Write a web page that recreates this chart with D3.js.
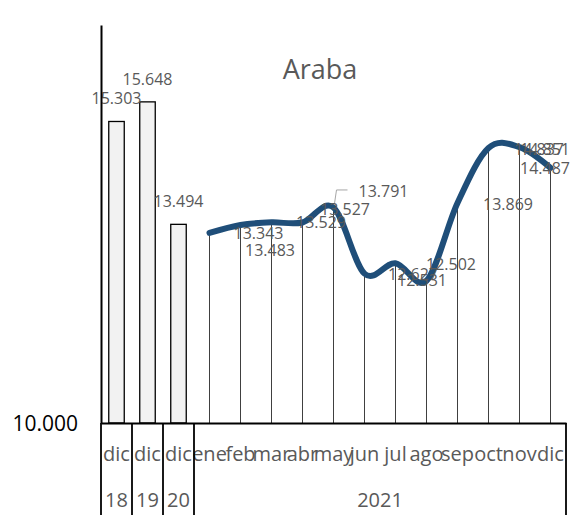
<!DOCTYPE html>
<html>
<head>
<meta charset="utf-8">
<script src="https://cdn.jsdelivr.net/npm/d3@7"></script>
<style>
  body { margin: 0; background: #fff; }
  svg { display: block; font-family: "Open Sans", sans-serif; }
</style>
</head>
<body>
<div id="chart"></div>
<script>
// data
var categories = ["dic", "dic", "dic", "ene", "feb", "mar", "abr", "may", "jun", "jul", "ago", "sep", "oct", "nov", "dic"];
var groupLabels = ["18", "19", "20", "2021"];
var groupSizes = [1, 1, 1, 12];
var barValues = [15303, 15648, 13494];
var monthValues = [13343, 13483, 13529, 13527, 13791, 12627, 12810, 12502, 13869, 14837, 14851, 14487];
var monthLabels = ["13.343", "13.483", "13.529", "13.527", "13.791", "12.627", "12.531", "12.502", "13.869", "14.837", "14.851", "14.487"];
var yTicks = [10000];

// where each month label sits relative to its point (dx, dy)
var labelOffsets = [[49, 6], [29.5, 31], [49.5, 5.7], [42.5, -7.5], [50, -10.5], [48.5, 6.5],
                    [26.5, 23], [24.5, -10.7], [50.5, 6.6], [50.5, 7], [25.5, 7.8], [-5.5, 6]];

var W = 572, H = 515;
var plotLeft = 101, plotRight = 566, plotTop = 25, axisY = 423;

var svg = d3.select("#chart")
  .append("svg")
    .attr("width", W)
    .attr("height", H);

var locale = d3.formatLocale({decimal: ",", thousands: ".", grouping: [3], currency: ["", "€"]});
var fmt = locale.format(",d");

var x = d3.scaleBand()
  .domain(d3.range(categories.length))
  .range([plotLeft, plotRight])
  .padding(0);
var bw = x.bandwidth();

var y = d3.scaleLinear()
  .domain([10000, 17000])
  .range([axisY, plotTop]);

// title
svg.append("text")
  .attr("x", 320)
  .attr("y", 79)
  .attr("text-anchor", "middle")
  .style("font-size", "27px")
  .style("fill", "#595959")
  .text("Araba");

// bars (dic 18, 19, 20)
svg.selectAll("rect.bar")
  .data(barValues)
  .enter()
  .append("rect")
    .attr("class", "bar")
    .attr("x", function(d, i) { return x(i) + bw * 0.25; })
    .attr("width", bw * 0.5)
    .attr("y", function(d) { return y(d); })
    .attr("height", function(d) { return y(10000) - y(d); })
    .style("fill", "#f2f2f2")
    .style("stroke", "#000")
    .style("stroke-width", 1.3);

svg.selectAll("text.barlabel")
  .data(barValues)
  .enter()
  .append("text")
    .attr("class", "barlabel")
    .attr("x", function(d, i) { return x(i) + bw / 2; })
    .attr("y", function(d) { return y(d) - 17; })
    .attr("text-anchor", "middle")
    .style("font-size", "16px")
    .style("fill", "#595959")
    .text(function(d) { return fmt(d); });

// monthly points
var off = barValues.length;
var pts = monthValues.map(function(v, i) {
  return {x: x(off + i) + bw / 2, y: y(v), v: v, label: monthLabels[i], o: labelOffsets[i]};
});

// drop lines
svg.selectAll("line.drop")
  .data(pts)
  .enter()
  .append("line")
    .attr("class", "drop")
    .attr("x1", function(d) { return d.x; })
    .attr("x2", function(d) { return d.x; })
    .attr("y1", function(d) { return d.y; })
    .attr("y2", y(10000))
    .style("stroke", "#404040")
    .style("stroke-width", 1);

// smoothed line
var line = d3.line()
  .x(function(d) { return d.x; })
  .y(function(d) { return d.y; })
  .curve(d3.curveCardinal.tension(0));

svg.append("path")
  .datum(pts)
  .attr("d", line)
  .style("fill", "none")
  .style("stroke", "#1f4e79")
  .style("stroke-width", 6)
  .style("stroke-linecap", "round")
  .style("stroke-linejoin", "round");

// leader line for the may label
var pm = pts[4];
svg.append("path")
  .attr("d", "M" + (pm.x + pm.o[0] - 36) + "," + (pm.y + pm.o[1] - 7) +
             "H" + (pm.x + 3) + "L" + (pm.x + 1) + "," + (pm.y - 4))
  .style("fill", "none")
  .style("stroke", "#a6a6a6")
  .style("stroke-width", 1);

// month labels
svg.selectAll("text.ptlabel")
  .data(pts)
  .enter()
  .append("text")
    .attr("class", "ptlabel")
    .attr("x", function(d) { return d.x + d.o[0]; })
    .attr("y", function(d) { return d.y + d.o[1]; })
    .attr("text-anchor", "middle")
    .style("font-size", "16px")
    .style("fill", "#595959")
    .text(function(d) { return d.label; });

// y axis
var yAxis = svg.append("g")
  .attr("transform", "translate(" + plotLeft + ",0)")
  .call(d3.axisLeft(y).tickValues(yTicks).tickSize(0).tickSizeOuter(0).tickPadding(23).tickFormat(fmt));
yAxis.select(".domain").style("stroke", "#000").style("stroke-width", 2);
yAxis.selectAll("text")
  .attr("dy", "0.36em")
  .style("font-family", "\"Open Sans\", sans-serif")
  .style("font-size", "21px")
  .style("fill", "#000");

// x axis (category row)
var xAxis = svg.append("g")
  .attr("transform", "translate(0," + axisY + ")")
  .call(d3.axisBottom(x).tickSize(0).tickSizeOuter(0).tickFormat(function(i) { return categories[i]; }));
xAxis.select(".domain").style("stroke", "#000").style("stroke-width", 2);
xAxis.selectAll("text")
  .attr("y", 38)
  .attr("dy", 0)
  .style("font-family", "\"Open Sans\", sans-serif")
  .style("font-size", "20px")
  .style("fill", "#595959");

// group row
var starts = [];
var acc = 0;
groupSizes.forEach(function(n) { starts.push(acc); acc += n; });

svg.selectAll("line.sep")
  .data(starts.concat([acc]))
  .enter()
  .append("line")
    .attr("class", "sep")
    .attr("x1", function(d) { return d < categories.length ? x(d) : plotRight; })
    .attr("x2", function(d) { return d < categories.length ? x(d) : plotRight; })
    .attr("y1", axisY)
    .attr("y2", H)
    .style("stroke", "#000")
    .style("stroke-width", 1.8);

svg.selectAll("text.group")
  .data(groupLabels)
  .enter()
  .append("text")
    .attr("class", "group")
    .attr("x", function(d, i) { return x(starts[i]) + bw * groupSizes[i] / 2; })
    .attr("y", 507)
    .attr("text-anchor", "middle")
    .style("font-size", "20px")
    .style("fill", "#595959")
    .text(function(d) { return d; });
</script>
</body>
</html>
